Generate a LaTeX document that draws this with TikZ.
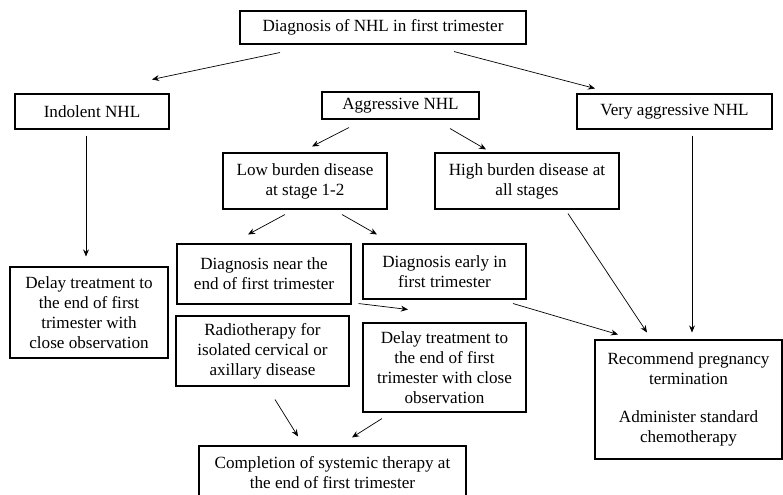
\documentclass[tikz,border=0pt]{standalone}
\usepackage{fontspec}
\setmainfont{Liberation Serif}
\usetikzlibrary{positioning,arrows.meta,calc}

\begin{document}
\begin{tikzpicture}[x=0.03cm,y=-0.03cm,
    box/.style 2 args={draw, line width=0.9pt, align=center, inner sep=2pt,
      minimum width=#1*0.03cm, minimum height=#2*0.03cm,
      font=\fontsize{14.6}{17}\selectfont},
    arr/.style={-{Stealth[length=6pt,width=5pt]}, line width=0.6pt}]
  \def\gap{0.55cm} % blank line in the last box
  \useasboundingbox (0,0) rectangle (783,494);
  % boxes, at their centres
  \node[box={286}{33}] (diag) at (383,27.5) {Diagnosis of NHL in first trimester};
  \node[box={154}{35}] (indol) at (92,111.5) {Indolent NHL};
  \node[box={157}{27}] (aggr) at (400.5,105.5) {Aggressive NHL};
  \node[box={195}{35}] (very) at (674.5,111.5) {Very aggressive NHL};
  \node[box={164}{56}] (low) at (305,181) {Low burden disease\\at stage 1-2};
  \node[box={184}{56}] (high) at (527,181) {High burden disease at\\all stages};
  \node[box={174}{60}] (near) at (264,274) {Diagnosis near the\\end of first trimester};
  \node[box={163}{55}] (early) at (444.5,271.5) {Diagnosis early in\\first trimester};
  \node[box={158}{91}] (delayL) at (89,312.5) {Delay treatment to\\the end of first\\trimester with\\close observation};
  \node[box={173}{70}] (radio) at (262.5,351) {Radiotherapy for\\isolated cervical or\\axillary disease};
  \node[box={163}{89}] (delayM) at (444.5,367.5) {Delay treatment to\\the end of first\\trimester with close\\observation};
  \node[box={187}{119}] (recom) at (688.5,399.5) {Recommend pregnancy\\termination\\[\gap]Administer standard\\chemotherapy};
  \node[box={267}{54}] (compl) at (332.5,473) {Completion of systemic therapy at\\the end of first trimester};
  % arrows, with the gaps of the original
  \draw[arr] ($(diag.south)+(-103,8)$) -- ($(indol.north)+(60,-14)$);
  \draw[arr] ($(diag.south)+(71,7)$) -- ($(very.north)+(-79.5,-5)$);
  \draw[arr] ($(aggr.south)+(-51.5,8)$) -- ($(low.north)+(7,-6)$);
  \draw[arr] ($(aggr.south)+(49.5,9)$) -- ($(high.north)+(-41,-3)$);
  \draw[arr] ($(low.south)+(-20,5)$) -- ($(near.north)+(-16,-9)$);
  \draw[arr] ($(low.south)+(37,5)$) -- ($(early.north)+(-67.5,-9)$);
  \draw[arr] ($(indol.south)+(-6,6)$) -- ($(delayL.north)+(-3,-10)$);
  \draw[arr] ($(very.south)+(17.5,6)$) -- ($(recom.north)+(3.5,-7)$);
  \draw[arr] ($(high.south)+(41,4)$) -- ($(recom.north)+(-41.5,-7)$);
  \draw[arr] ($(early.south)+(68.5,4)$) -- ($(recom.north)+(-70.5,-5)$);
  \draw[arr] ($(near.south east)+(7,-1)$) -- ($(delayM.north)+(-36.5,-13)$);
  \draw[arr] ($(radio.south)+(12.5,13)$) -- ($(compl.north)+(-34.5,-9)$);
  \draw[arr] ($(delayM.south)+(-62.5,6)$) -- ($(compl.north)+(19.5,-8)$);
\end{tikzpicture}
\end{document}
